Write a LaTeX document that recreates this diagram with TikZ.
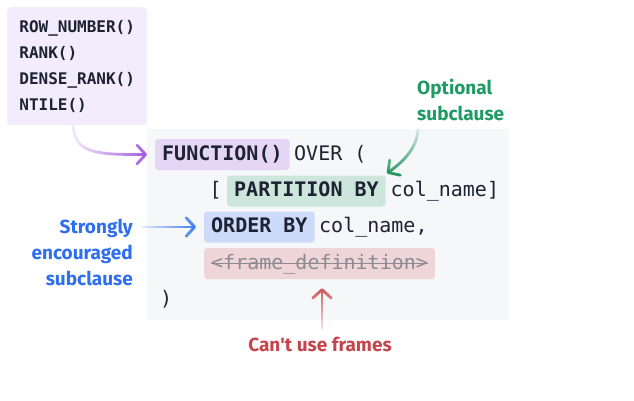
\documentclass[tikz,border=0pt]{standalone}
\usepackage{fontspec}
\setmonofont{DejaVu Sans Mono}
\newfontfamily\labfont[Ligatures=TeXOff]{Fira Sans}
\usetikzlibrary{arrows.meta,fadings}
\definecolor{ink}{HTML}{1E2233}
\definecolor{listfill}{HTML}{F3ECFC}
\definecolor{fnfill}{HTML}{E6D6F6}
\definecolor{purplearr}{HTML}{A35BE0}
\definecolor{greentext}{HTML}{1E9A64}
\definecolor{greenarr}{HTML}{23965F}
\definecolor{partfill}{HTML}{CDE6DC}
\definecolor{bluetext}{HTML}{2E6FF0}
\definecolor{bluearr}{HTML}{3B7CF3}
\definecolor{ordfill}{HTML}{CCDBFA}
\definecolor{redtext}{HTML}{C4454B}
\definecolor{redarr}{HTML}{CD5559}
\definecolor{framefill}{HTML}{EFD5D8}
\definecolor{strikegray}{HTML}{8B8C92}
\definecolor{codebg}{HTML}{F6F7F9}
\tikzfading[name=fadein, left color=transparent!88, right color=transparent!0]
\tikzset{
  codetext/.style={font=\fontsize{20}{24}\selectfont\ttfamily, text=ink, inner sep=0pt, anchor=base west},
  kwbox/.style={font=\fontsize{20}{24}\selectfont\ttfamily\bfseries, text=ink, inner xsep=7pt, inner ysep=6pt, text height=15pt, text depth=4pt, anchor=west, rounded corners=3pt},
  lab/.style={font=\fontsize{19}{24}\selectfont\labfont\bfseries, inner sep=0pt},
  arr/.style={line width=2.8pt, line cap=round, -{Straight Barb[length=8.5pt, width=18.5pt, round]}},
}
\begin{document}
\begin{tikzpicture}[x=1pt,y=1pt]
\useasboundingbox (0,0) rectangle (634,-400);
\fill[white] (0,0) rectangle (634,-400);
% function list
\node[fill=listfill, rounded corners=4pt, minimum width=140pt, minimum height=118pt, anchor=north west, align=left, text=ink, font=\fontsize{16}{25.9}\selectfont\ttfamily\bfseries] (list) at (7,-7) {ROW\_NUMBER()\\RANK()\\DENSE\_RANK()\\NTILE()};
% code block
\node[fill=codebg, minimum width=362pt, minimum height=191pt, anchor=north west, inner sep=0pt] (code) at (147,-129) {};
% line 1
\node[kwbox, fill=fnfill] (fn) at (155,-154.5) {FUNCTION()};
\node[codetext] (over) at (294,-160) {OVER (};
% line 2
\node[codetext] (lbr) at (209.5,-196.5) {[};
\node[kwbox, fill=partfill] (part) at (227,-191) {PARTITION BY};
\node[codetext] (col1) at (390.5,-196.5) {col\_name]};
% line 3
\node[kwbox, fill=ordfill] (ord) at (204,-227) {ORDER BY};
\node[codetext] (col2) at (319,-232.5) {col\_name,};
% line 4
\node[kwbox, fill=framefill, text=strikegray, font=\fontsize{20}{24}\selectfont\ttfamily] (frame) at (204,-263.5) {<frame\_definition>};
\draw[strikegray, line width=1.3pt] ([xshift=7pt]frame.west) -- ([xshift=-7pt]frame.east);
% line 5
\node[codetext] (close) at (160,-305.7) {)};
% labels
\node[lab, text=greentext, anchor=base west] (optA) at (417,-94.3) {Optional};
\node[lab, text=greentext, anchor=base west] (optB) at (417,-120) {subclause};
\node[lab, text=bluetext, anchor=base east] (strA) at (133,-233.3) {Strongly};
\node[lab, text=bluetext, anchor=base east] (strB) at (133,-259) {encouraged};
\node[lab, text=bluetext, anchor=base east] (strC) at (133,-285) {subclause};
\node[lab, text=redtext, anchor=base] (cant) at (320,-351.7) {Can't use frames};
% arrows (leading move-tos widen the fading box so the tips are not cut)
\draw[arr, purplearr, path fading=fadein] ([xshift=-8pt,yshift=-14pt]fn.west) ([xshift=-4pt,yshift=-1pt]list.south) .. controls +(2,-28) and +(-48,0) .. ([xshift=-8pt]fn.west);
\draw[arr, greenarr, path fading=fadein, fading angle=-90] ([xshift=16pt,yshift=2pt]part.north east) ([xshift=1pt,yshift=-9pt]optB.south west) .. controls +(-1,-18) and +(17,12) .. ([xshift=1pt,yshift=2pt]part.north east);
\draw[arr, bluearr, path fading=fadein] ([xshift=10pt,yshift=14pt]strA.east |- ord.west) ([xshift=10pt,yshift=-14pt]strA.east |- ord.west) ([xshift=10pt]strA.east |- ord.west) -- ([xshift=-8pt]ord.west);
\draw[arr, redarr, path fading=fadein, fading angle=90] ([xshift=16pt,yshift=8pt]cant.north) ([xshift=-12pt,yshift=8pt]cant.north) ([xshift=2pt,yshift=8pt]cant.north) -- ([xshift=2pt,yshift=-9pt]cant.north |- frame.south);
\end{tikzpicture}
\end{document}
